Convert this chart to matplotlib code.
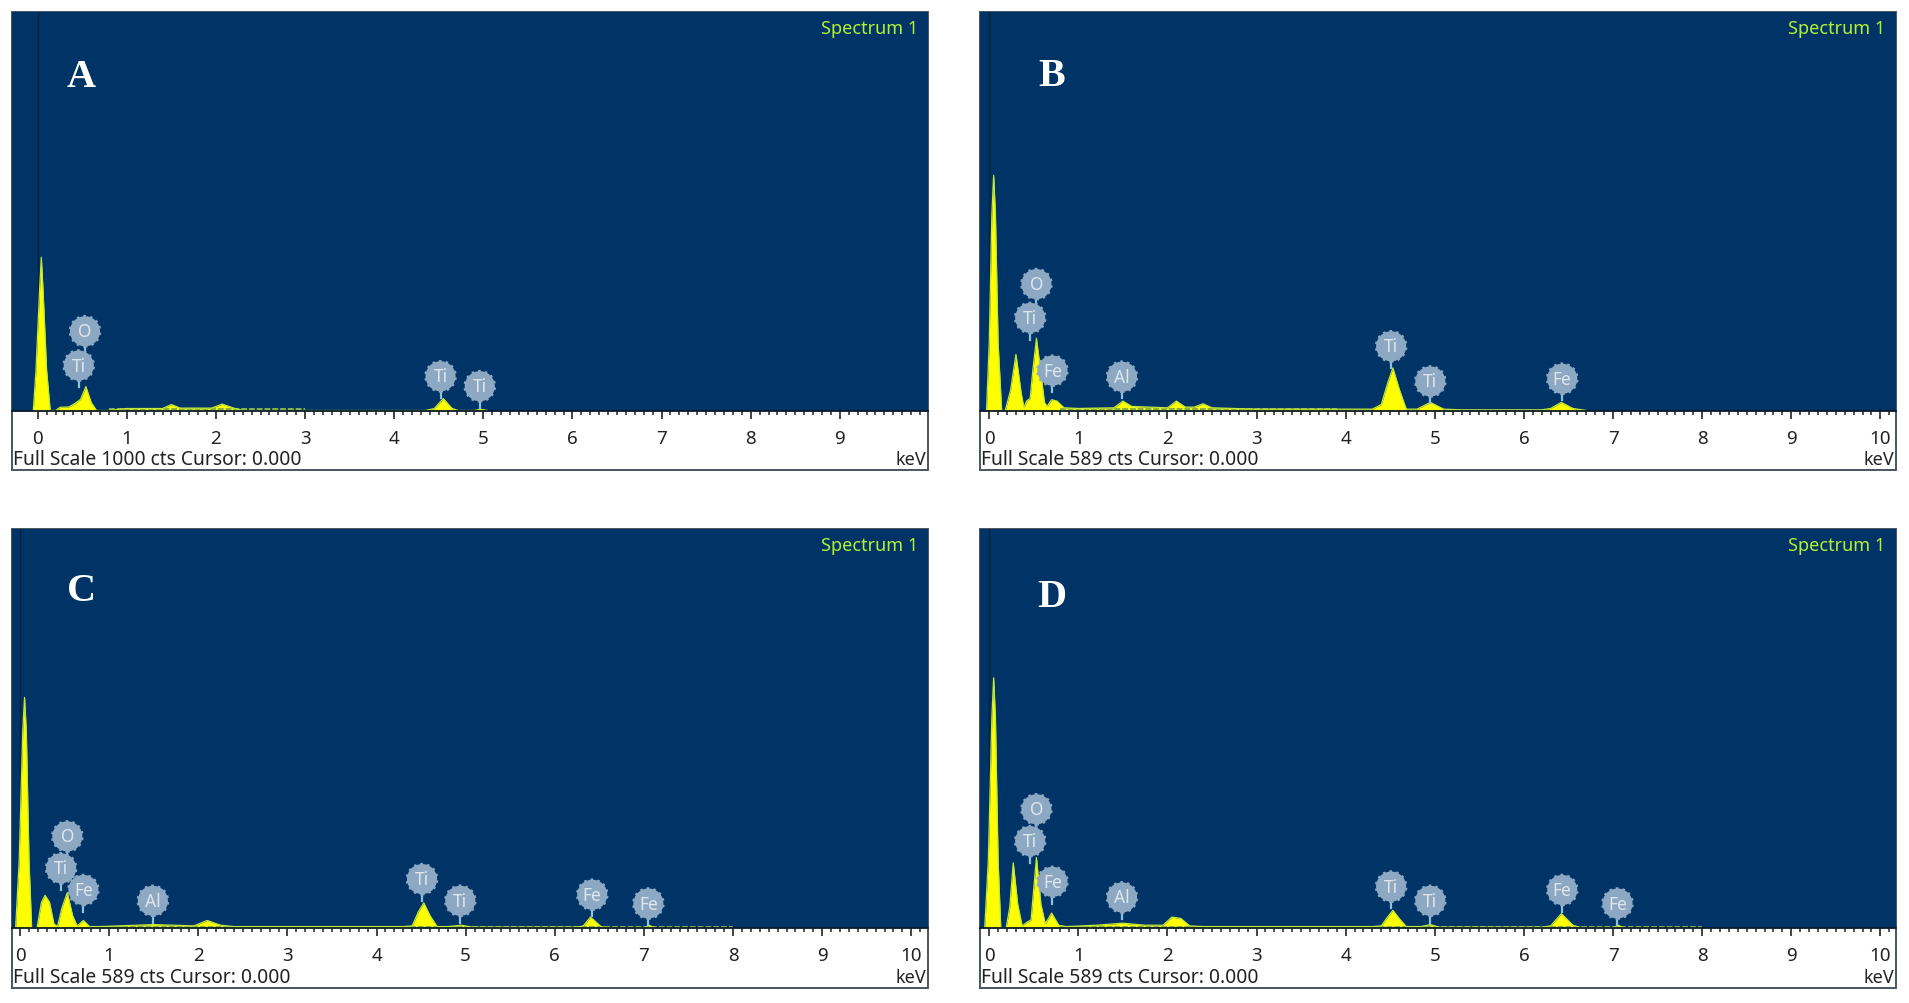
import matplotlib
matplotlib.use("Agg")
import matplotlib.pyplot as plt
import numpy as np

plt.rcParams['font.family'] = ['Noto Sans', 'DejaVu Sans']

W, H = 1909, 1004
SC = 1909 / 1568  # panel positions below were read in 1568-wide units

panel_names = ['A', 'B', 'C', 'D']
full_scale = [1000, 589, 589, 589]
tick_labels = [list(range(0, 10)), list(range(0, 11)), list(range(0, 11)), list(range(0, 11))]

A_kev = [-0.05, -0.02, 0.02, 0.04, 0.06, 0.1, 0.14, 0.2, 0.25, 0.35, 0.42, 0.48, 0.54, 0.6, 0.66, 0.8, 1.0, 1.4, 1.5, 1.6, 1.95, 2.07, 2.2, 2.3, 4.35, 4.45, 4.55, 4.65, 4.72, 4.9, 4.97, 5.05]
A_cts = [0, 100, 300, 385, 300, 100, 0, 0, 8, 9, 18, 28, 60, 20, 0, 0, 5, 5, 15, 6, 6, 16, 6, 0, 0, 5, 30, 5, 0, 0, 3, 0]

B_kev = [-0.03, 0.0, 0.03, 0.05, 0.07, 0.1, 0.14, 0.18, 0.24, 0.3, 0.36, 0.39, 0.42, 0.46, 0.49, 0.53, 0.58, 0.62, 0.65, 0.7, 0.76, 0.84, 1.0, 1.4, 1.5, 1.6, 2.0, 2.1, 2.2, 2.3, 2.4, 2.5, 3.0, 4.3, 4.4, 4.47, 4.53, 4.6, 4.68, 4.8, 4.95, 5.1, 5.3, 6.2, 6.3, 6.42, 6.55, 6.7]
B_cts = [0, 100, 290, 348, 290, 100, 0, 0, 30, 83, 25, 4, 14, 18, 60, 107, 55, 12, 6, 16, 14, 4, 3, 4, 14, 6, 4, 14, 5, 5, 10, 4, 2, 2, 9, 40, 63, 32, 2, 2, 12, 2, 1, 1, 3, 12, 3, 0]

C_kev = [-0.05, -0.01, 0.03, 0.05, 0.07, 0.1, 0.13, 0.19, 0.24, 0.28, 0.33, 0.38, 0.42, 0.47, 0.53, 0.59, 0.64, 0.71, 0.78, 0.9, 1.5, 1.95, 2.1, 2.25, 2.4, 4.3, 4.4, 4.47, 4.53, 4.6, 4.68, 4.8, 4.95, 5.08, 6.25, 6.32, 6.4, 6.52, 6.6, 7.0, 7.06, 7.12]
C_cts = [0, 100, 290, 340, 290, 100, 0, 0, 38, 48, 38, 6, 2, 30, 52, 18, 3, 11, 2, 2, 5, 3, 11, 4, 2, 2, 3, 24, 37, 18, 2, 2, 4, 1, 1, 3, 16, 2, 0, 0, 4, 0]

D_kev = [-0.05, -0.01, 0.03, 0.05, 0.07, 0.1, 0.13, 0.19, 0.23, 0.27, 0.32, 0.37, 0.42, 0.47, 0.53, 0.58, 0.63, 0.7, 0.78, 0.86, 1.2, 1.5, 1.75, 1.95, 2.05, 2.15, 2.25, 2.4, 4.3, 4.4, 4.47, 4.53, 4.6, 4.68, 4.85, 4.95, 5.05, 6.2, 6.3, 6.42, 6.55, 6.65, 7.0, 7.06, 7.12]
D_cts = [0, 100, 310, 369, 310, 100, 0, 0, 30, 96, 35, 3, 8, 12, 104, 35, 6, 22, 4, 2, 4, 7, 4, 4, 16, 14, 3, 2, 2, 3, 16, 26, 14, 2, 2, 5, 1, 1, 3, 21, 4, 0, 0, 4, 0]

spec_kev = [A_kev, B_kev, C_kev, D_kev]
spec_cts = [A_cts, B_cts, C_cts, D_cts]

A_tags = ['O', 'Ti', 'Ti', 'Ti']
A_tag_kev = [0.53, 0.46, 4.52, 4.96]
A_tag_cts = [199, 113, 86, 61]
A_tag_end = [144, 58, 31, 6]

B_tags = ['O', 'Ti', 'Fe', 'Al', 'Ti', 'Ti', 'Fe']
B_tag_kev = [0.53, 0.46, 0.71, 1.49, 4.51, 4.95, 6.43]
B_tag_cts = [187, 137, 59, 50, 95, 43, 47]
B_tag_end = [155, 105, 27, 18, 63, 11, 15]

C_tags = ['O', 'Ti', 'Fe', 'Al', 'Ti', 'Ti', 'Fe', 'Fe']
C_tag_kev = [0.53, 0.46, 0.71, 1.49, 4.51, 4.94, 6.42, 7.05]
C_tag_cts = [135, 88, 56, 40, 72, 40, 49, 36]
C_tag_end = [103, 56, 24, 8, 40, 8, 17, 4]

D_tags = ['O', 'Ti', 'Fe', 'Al', 'Ti', 'Ti', 'Fe', 'Fe']
D_tag_kev = [0.53, 0.46, 0.71, 1.49, 4.51, 4.95, 6.43, 7.05]
D_tag_cts = [175, 128, 68, 45, 61, 40, 56, 36]
D_tag_end = [143, 96, 36, 13, 29, 8, 24, 4]

tags = [A_tags, B_tags, C_tags, D_tags]
tag_kev = [A_tag_kev, B_tag_kev, C_tag_kev, D_tag_kev]
tag_cts = [A_tag_cts, B_tag_cts, C_tag_cts, D_tag_cts]
tag_end = [A_tag_end, B_tag_end, C_tag_end, D_tag_end]

# layout: left, right, top, baseline, bottom, x of 0 keV (1568-wide units)
layout = [(10, 762, 11, 338, 387, 31),
          (805, 1557, 11, 338, 387, 812.5),
          (10, 762, 435, 763, 812, 16.5),
          (805, 1557, 435, 763, 812, 812.5)]
letter_pos = [(67, 64), (864, 63), (67, 486), (864, 491)]
noise_end = [3.0, 3.9, 8.0, 8.0]
PX_PER_KEV = 73.2

BLUE = '#003366'
YEL = '#FFFF00'

fig = plt.figure(figsize=(W / 100, H / 100), dpi=100, facecolor='white')
bgax = fig.add_axes([0, 0, 1, 1])
bgax.set_xlim(0, 1568)
bgax.set_ylim(H / SC, 0)
bgax.axis('off')

for i, (l, r, t, b, bt, x0) in enumerate(layout):
    bgax.add_patch(plt.Rectangle((l, t), r - l, bt - t, fc='white', ec='#4a5560', lw=1.4, zorder=1))
    ax = fig.add_axes([l * SC / W, 1 - b * SC / H, (r - l) * SC / W, (b - t) * SC / H], zorder=2)
    ax.set_facecolor(BLUE)
    ax.set_xlim((l - x0) / PX_PER_KEV, (r - x0) / PX_PER_KEV)
    fs = full_scale[i]
    ax.set_ylim(0, fs)
    for s in ax.spines.values():
        s.set_visible(False)
    k = np.array(spec_kev[i], float)
    c = np.array(spec_cts[i], float)
    ax.axvline(0, color='#0b2238', lw=1.0, zorder=1)
    ax.fill_between(k, 0, c, color=YEL, lw=0, zorder=2)
    ax.plot(k, c, color='#c4e838', lw=0.9, zorder=3)
    ax.plot([0.8, noise_end[i]], [1.6 * fs / 589, 1.6 * fs / 589], color='#86b04c', lw=1.4,
            ls=(0, (3, 1)), zorder=2)

    ax.set_xticks(tick_labels[i])
    ax.set_xticklabels([str(v) for v in tick_labels[i]], fontsize=13.5, color='#222222')
    ax.set_xticks(np.arange(0, ax.get_xlim()[1], 0.1), minor=True)
    ax.tick_params(axis='x', which='major', length=6, width=1.2, color='#222222', pad=7)
    ax.tick_params(axis='x', which='minor', length=3, width=1.2, color='#333333')
    ax.set_yticks([])
    ax.axhline(0, color='#0b1a28', lw=1.3, zorder=4, clip_on=False)

    for name, xk, yc, ye in zip(tags[i], tag_kev[i], tag_cts[i], tag_end[i]):
        ax.plot([xk, xk], [ye, yc], color='#8fc0dc', lw=1.6, zorder=5)
        ax.scatter([xk], [yc], s=470, color='#8da8c2', edgecolors='#8da8c2', linewidths=1.8,
                   linestyle=':', zorder=6)
        ax.text(xk, yc, name, ha='center', va='center', fontsize=12.5, color='#dfe6ec', zorder=7)

    ax.text(0.989, 0.96, 'Spectrum 1', transform=ax.transAxes, ha='right', va='center',
            fontsize=13, color='#B5F032', zorder=8)
    bgax.text(l + 0.5, bt - 9, f'Full Scale {fs} cts Cursor: 0.000', ha='left', va='center',
              fontsize=13.9, color='#222222', zorder=9)
    bgax.text(r - 1, bt - 9, 'keV', ha='right', va='center', fontsize=13, color='#222222', zorder=9)
    fig.text(letter_pos[i][0] * SC / W, 1 - letter_pos[i][1] * SC / H, panel_names[i], ha='center', va='center',
             fontsize=29, fontweight='bold', family='Liberation Serif', color='white', zorder=10)

fig.savefig('out.png', dpi=100, facecolor='white')
